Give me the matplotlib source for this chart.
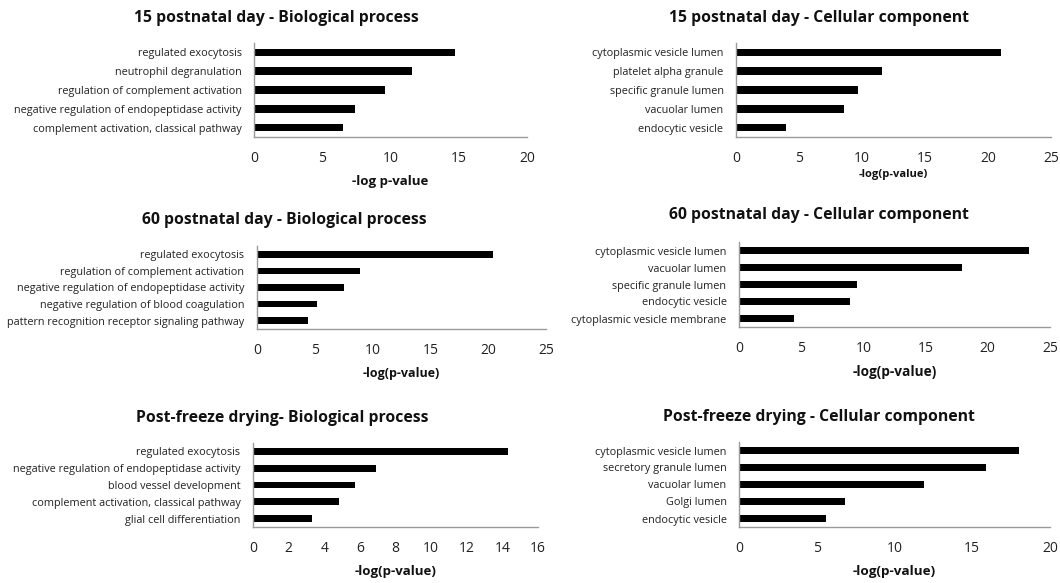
import matplotlib
matplotlib.use("Agg")
import matplotlib.pyplot as plt

plt.rcParams['font.family'] = ['Open Sans', 'DejaVu Sans']

# ---- data ----
titles = [
    "15 postnatal day - Biological process",
    "15 postnatal day - Cellular component",
    "60 postnatal day - Biological process",
    "60 postnatal day - Cellular component",
    "Post-freeze drying- Biological process",
    "Post-freeze drying - Cellular component",
]
xlabels = ["-log p-value", "-log(p-value)", "-log(p-value)",
           "-log(p-value)", "-log(p-value)", "-log(p-value)"]

bp15_terms = ["regulated exocytosis", "neutrophil degranulation",
              "regulation of complement activation",
              "negative regulation of endopeptidase activity",
              "complement activation, classical pathway"]
bp15_vals = [14.7, 11.6, 9.6, 7.4, 6.5]

cc15_terms = ["cytoplasmic vesicle lumen", "platelet alpha granule",
              "specific granule lumen", "vacuolar lumen", "endocytic vesicle"]
cc15_vals = [21.0, 11.6, 9.7, 8.6, 4.0]

bp60_terms = ["regulated exocytosis", "regulation of complement activation",
              "negative regulation of endopeptidase activity",
              "negative regulation of blood coagulation",
              "pattern recognition receptor signaling pathway"]
bp60_vals = [20.4, 8.9, 7.5, 5.2, 4.4]

cc60_terms = ["cytoplasmic vesicle lumen", "vacuolar lumen",
              "specific granule lumen", "endocytic vesicle",
              "cytoplasmic vesicle membrane"]
cc60_vals = [23.3, 17.9, 9.5, 8.9, 4.4]

bpfd_terms = ["regulated exocytosis",
              "negative regulation of endopeptidase activity",
              "blood vessel development",
              "complement activation, classical pathway",
              "glial cell differentiation"]
bpfd_vals = [14.3, 6.9, 5.7, 4.8, 3.3]

ccfd_terms = ["cytoplasmic vesicle lumen", "secretory granule lumen",
              "vacuolar lumen", "Golgi lumen", "endocytic vesicle"]
ccfd_vals = [18.0, 15.9, 11.9, 6.8, 5.6]

xmax = [20, 25, 25, 25, 16, 20]
xstep = [5, 5, 5, 5, 2, 5]

panels = [(bp15_terms, bp15_vals), (cc15_terms, cc15_vals),
          (bp60_terms, bp60_vals), (cc60_terms, cc60_vals),
          (bpfd_terms, bpfd_vals), (ccfd_terms, ccfd_vals)]

# ---- layout (pixels) ----
W, H = 1060, 583
# left, right, top, bottom, xlabel y, title x, title y
boxes = [
    (254, 527, 43, 137, 181, 276, 18),
    (736, 1051, 43, 137, 175, 819, 18),
    (257, 546, 246, 329, 373, 284, 220),
    (739, 1050, 242, 327, 372, 819, 215),
    (253, 538, 443, 527, 572, 282, 418),
    (739, 1050, 442, 527, 572, 819, 417),
]
xlabel_sizes = [9.5, 8.0, 9.0, 9.8, 9.5, 9.7]

fig = plt.figure(figsize=(W / 100, H / 100), dpi=100)
fig.patch.set_facecolor("white")

for i, ((terms, vals), box) in enumerate(zip(panels, boxes)):
    l, r, t, b, xly, tx, ty = box
    ax = fig.add_axes([l / W, 1 - b / H, (r - l) / W, (b - t) / H])
    ypos = list(range(len(terms)))
    ax.barh(ypos, vals, height=0.4, color="black")
    ax.set_yticks(ypos)
    ax.set_yticklabels(terms, fontsize=7.8, color="#222222")
    ax.set_ylim(len(terms) - 0.5, -0.5)
    ax.set_xlim(0, xmax[i])
    ax.set_xticks(list(range(0, xmax[i] + 1, xstep[i])))
    ax.tick_params(axis="x", length=0, pad=10, labelsize=10, colors="#222222")
    ax.tick_params(axis="y", length=0, pad=9)
    for s in ["top", "right"]:
        ax.spines[s].set_visible(False)
    for s in ["left", "bottom"]:
        ax.spines[s].set_color("#9a9a9a")
        ax.spines[s].set_linewidth(1.0)
    ax.set_xlabel(xlabels[i], fontsize=xlabel_sizes[i], fontweight="bold",
                  color="#111111")
    ax.xaxis.set_label_coords(0.5, -(xly - b) / (b - t), transform=ax.transAxes)
    ax.xaxis.label.set_va("center")
    fig.text(tx / W, 1 - ty / H, titles[i], ha="center", va="center",
             fontsize=11.3, fontweight="bold", color="#111111")

fig.savefig("out.png", dpi=100, facecolor="white")
